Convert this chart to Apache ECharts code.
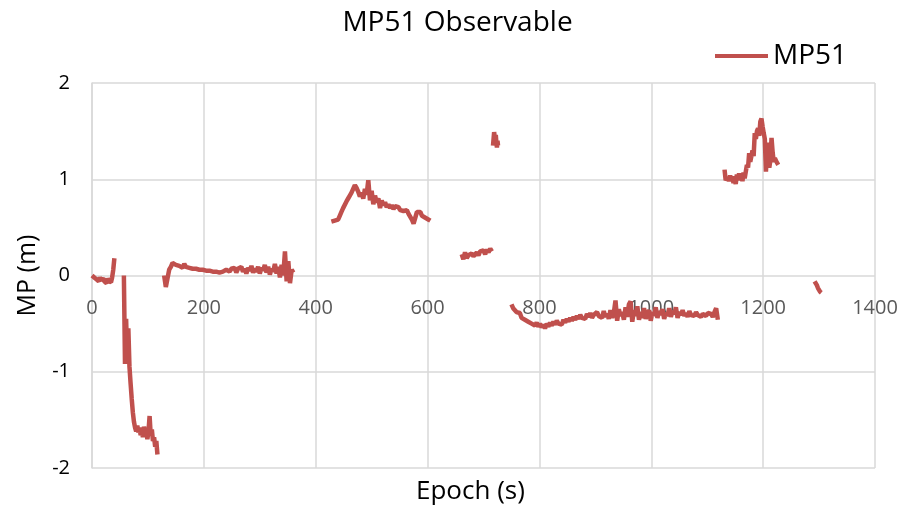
<!DOCTYPE html>
<html>
<head>
<meta charset="utf-8">
<script src="https://cdn.jsdelivr.net/npm/echarts@6/dist/echarts.min.js"></script>
<style>
  html, body { margin: 0; padding: 0; background: #fff; }
  #chart { width: 915px; height: 515px; }
</style>
</head>
<body>
<div id="chart"></div>
<script>
// MP51 values, one array per continuous arc
const seg1Start = 0, seg1Step = 2
const seg1 = [0.0, 0.01, -0.02, -0.01, -0.04, -0.03, -0.06, -0.02, -0.05, -0.07, -0.03, -0.06, -0.04, -0.08, -0.03, -0.06, -0.05, -0.07, -0.02, 0.06, 0.18]

const seg2Start = 57, seg2Step = 2
const seg2 = [0.0, -0.92, -0.45, -0.88, -0.55, -0.95, -1.12, -1.28, -1.42, -1.52, -1.58, -1.62, -1.56, -1.63, -1.58, -1.66,
  -1.6, -1.68, -1.57, -1.64, -1.6, -1.7, -1.62, -1.46, -1.66, -1.6, -1.72, -1.68, -1.78, -1.72, -1.86]

const seg3Start = 129, seg3Step = 3
const seg3 = [0.0, -0.12, -0.03, 0.06, 0.09, 0.13, 0.14, 0.11, 0.13, 0.1, 0.12, 0.08, 0.12, 0.09, 0.1, 0.08, 0.1, 0.07, 0.09, 0.07,
  0.08, 0.06, 0.08, 0.06, 0.07, 0.05, 0.06, 0.05, 0.06, 0.04, 0.05, 0.04, 0.05, 0.03, 0.05, 0.04, 0.02, 0.06, 0.08, 0.04,
  0.07, 0.05, 0.08, 0.03, 0.07, 0.05, 0.09, 0.04, 0.07, 0.02, 0.08, 0.05, 0.1, 0.03, 0.07, 0.04, 0.09, 0.02, 0.08, 0.05,
  0.11, 0.03, 0.09, 0.01, 0.07, 0.04, 0.12, 0.02, 0.09, -0.02, 0.11, 0.0, 0.25, -0.06, 0.15, -0.08, 0.06, 0.03]

const seg4Start = 428, seg4Step = 3
const seg4 = [0.56, 0.55, 0.57, 0.56, 0.58, 0.62, 0.66, 0.7, 0.72, 0.77, 0.8, 0.83, 0.86, 0.9, 0.94, 0.91, 0.87, 0.82, 0.86, 0.8,
  0.9, 0.84, 0.99, 0.78, 0.88, 0.74, 0.83, 0.76, 0.8, 0.7, 0.78, 0.73, 0.76, 0.71, 0.74, 0.7, 0.73, 0.69, 0.72, 0.7,
  0.71, 0.68, 0.7, 0.67, 0.69, 0.68, 0.64, 0.62, 0.58, 0.54, 0.6, 0.66, 0.64, 0.66, 0.62, 0.63, 0.6, 0.62, 0.58, 0.57]

const seg5Start = 661, seg5Step = 3
const seg5 = [0.22, 0.17, 0.24, 0.18, 0.21, 0.19, 0.23, 0.2, 0.22, 0.24, 0.21, 0.25, 0.23, 0.26, 0.22, 0.27, 0.24, 0.28, 0.25]

const seg6Start = 717, seg6Step = 1
const seg6 = [1.35, 1.42, 1.49, 1.44, 1.36, 1.46, 1.38, 1.33, 1.4, 1.35]

const seg7Start = 750, seg7Step = 3
const seg7 = [-0.3, -0.34, -0.33, -0.38, -0.4, -0.39, -0.44, -0.43, -0.46, -0.45, -0.48, -0.47, -0.5, -0.48, -0.52, -0.49,
  -0.53, -0.5, -0.54, -0.51, -0.55, -0.5, -0.53, -0.49, -0.52, -0.48, -0.51, -0.47, -0.5, -0.48, -0.51, -0.46,
  -0.49, -0.45, -0.48, -0.44, -0.47, -0.43, -0.46, -0.42, -0.45, -0.41, -0.44, -0.42, -0.45, -0.4, -0.43, -0.39,
  -0.44, -0.41, -0.43, -0.38, -0.42, -0.4, -0.44, -0.37, -0.43, -0.4, -0.45, -0.36, -0.44, -0.39, -0.26, -0.47,
  -0.35, -0.42, -0.38, -0.46, -0.33, -0.43, -0.3, -0.27, -0.48, -0.36, -0.42, -0.32, -0.46, -0.38, -0.44, -0.34,
  -0.45, -0.4, -0.36, -0.47, -0.38, -0.42, -0.33, -0.44, -0.37, -0.41, -0.35, -0.45, -0.39, -0.42, -0.34, -0.43,
  -0.37, -0.4, -0.33, -0.44, -0.38, -0.41, -0.36, -0.42, -0.39, -0.43, -0.37, -0.41, -0.4, -0.42, -0.38, -0.41,
  -0.39, -0.43, -0.4, -0.38, -0.42, -0.39, -0.41, -0.4, -0.43, -0.38, -0.34, -0.46]

const seg8Start = 1131, seg8Step = 2
const seg8 = [1.1, 0.99, 0.97, 1.02, 0.98, 1.04, 0.99, 1.03, 0.96, 1.01, 0.95, 1.05, 0.99, 1.06, 1.0, 1.04, 0.98, 1.07,
  1.01, 0.99, 1.15, 1.12, 1.27, 1.18, 1.2, 1.3, 1.24, 1.48, 1.42, 1.5, 1.53, 1.45, 1.6, 1.63, 1.55, 1.48, 1.42, 1.08,
  1.32, 1.38, 1.12, 1.2, 1.43, 1.28, 1.18, 1.22, 1.19, 1.17, 1.15]

const seg9Start = 1292, seg9Step = 2
const seg9 = [-0.06, -0.08, -0.1, -0.13, -0.15, -0.17, -0.18]

const xTicks = { min: 0, max: 1400, interval: 200 }
const yTicks = { min: -2, max: 2, interval: 1 }

const segments = [
  [seg1Start, seg1Step, seg1], [seg2Start, seg2Step, seg2], [seg3Start, seg3Step, seg3],
  [seg4Start, seg4Step, seg4], [seg5Start, seg5Step, seg5], [seg6Start, seg6Step, seg6],
  [seg7Start, seg7Step, seg7], [seg8Start, seg8Step, seg8], [seg9Start, seg9Step, seg9]
]

// join the arcs, a null between them breaks the line
const mpData = []
segments.forEach(function (s) {
  const start = s[0], step = s[1], vals = s[2]
  vals.forEach(function (v, i) { mpData.push([start + i * step, v]) })
  mpData.push([start + vals.length * step, null])
})

const red = '#C0504D'
const grey = '#d9d9d9'
const font = 'Open Sans'

const chart = echarts.init(document.getElementById('chart'))
chart.setOption({
  animation: false,
  textStyle: { fontFamily: font },
  title: {
    text: 'MP51 Observable',
    left: 'center',
    top: 4,
    textStyle: { fontFamily: font, fontSize: 28, fontWeight: 'normal', color: '#000' }
  },
  legend: {
    left: 710,
    top: 37,
    icon: 'rect',
    itemWidth: 53,
    itemHeight: 4,
    itemGap: 6,
    textStyle: { fontFamily: font, fontSize: 28, color: '#000' },
    data: ['MP51']
  },
  grid: { left: 92, right: 40, top: 83, bottom: 47 },
  xAxis: {
    type: 'value',
    min: xTicks.min,
    max: xTicks.max,
    interval: xTicks.interval,
    // labels ride on the y = 0 line as in the spreadsheet chart
    offset: -192,
    axisLine: { show: false },
    axisTick: { show: false },
    axisLabel: { fontFamily: font, fontSize: 20, color: '#595959', margin: 22, formatter: function (v) { return String(v) } },
    splitLine: { show: true, lineStyle: { color: grey, width: 1.5 } }
  },
  yAxis: {
    type: 'value',
    min: yTicks.min,
    max: yTicks.max,
    interval: yTicks.interval,
    name: 'MP (m)',
    nameLocation: 'middle',
    nameGap: 52,
    nameTextStyle: { fontFamily: font, fontSize: 25, color: '#000' },
    axisLine: { show: true, lineStyle: { color: grey, width: 1.5 } },
    axisTick: { show: false },
    axisLabel: { fontFamily: font, fontSize: 20, color: '#000', margin: 22 },
    splitLine: { show: true, lineStyle: { color: grey, width: 1.5 } }
  },
  graphic: [{
    type: 'text',
    left: 416,
    top: 479,
    style: { text: 'Epoch (s)', fontFamily: font, fontSize: 26, fill: '#000' }
  }],
  series: [{
    name: 'MP51',
    type: 'line',
    data: mpData,
    showSymbol: false,
    symbol: 'none',
    connectNulls: false,
    lineStyle: { color: red, width: 4.5 },
    itemStyle: { color: red }
  }]
})
</script>
</body>
</html>
